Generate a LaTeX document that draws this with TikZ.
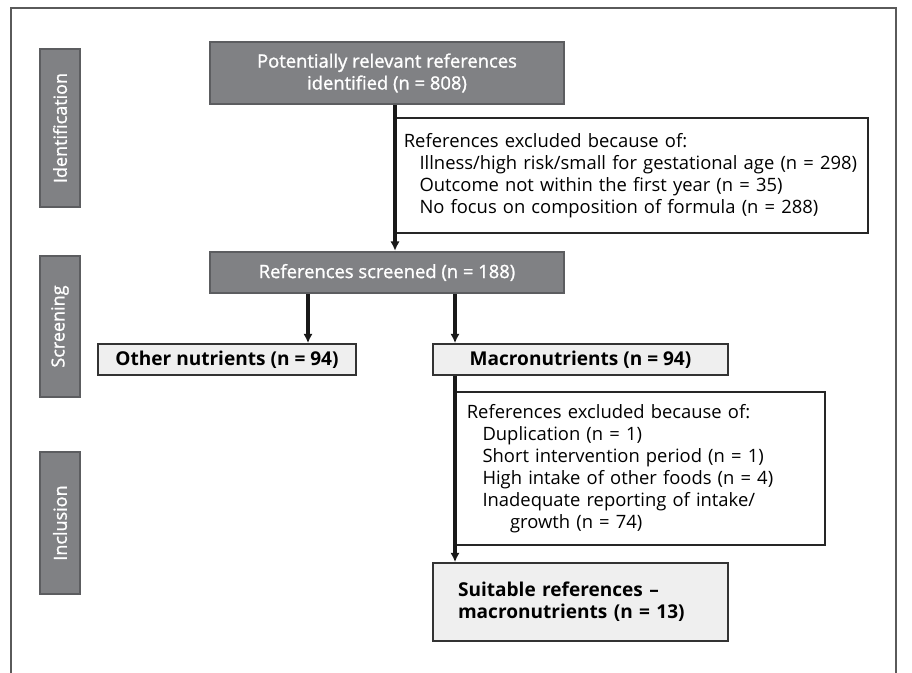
\documentclass[tikz,border=0pt]{standalone}
\usepackage{fontspec}
\setmainfont{Open Sans}
\newfontfamily\stagefont[FakeBold=1.2]{Open Sans}
\usetikzlibrary{arrows.meta}

\definecolor{darkbox}{RGB}{128,129,132}
\definecolor{darkedge}{RGB}{92,93,96}
\definecolor{lightbox}{RGB}{239,239,239}
\definecolor{frame}{RGB}{90,90,90}

\tikzset{
  stagebox/.style={draw=darkedge, line width=1.8pt, fill=darkbox, text=white, font=\stagefont\fontsize{13.8}{16.5}\selectfont},
  sidebox/.style={draw=darkedge, line width=1.8pt, fill=darkbox, text=white, font=\stagefont\fontsize{13.5}{16}\selectfont, rotate=90, minimum height=30pt},
  resultbox/.style={draw=black!80, line width=1.3pt, fill=lightbox, font=\bfseries\fontsize{14.3}{16.5}\selectfont},
  exclbox/.style={draw=black!85, line width=1.3pt, fill=white, anchor=north west, align=left, inner xsep=8.25pt, font=\fontsize{13.8}{16.5}\selectfont},
  flow/.style={line width=2.5pt, black!90, -{Latex[length=7pt,width=7pt]}}
}

\begin{document}
\begin{tikzpicture}[x=0.75pt,y=0.75pt,yscale=-1]
  \useasboundingbox (0,0) rectangle (912,672);

  % outer frame (runs off the bottom of the page)
  \draw[frame, line width=0.9pt] (11,690) -- (11,8) -- (896,8) -- (896,690);

  % stage labels on the left
  \node[sidebox, minimum width=118.5pt] (sideIdent) at (60,128) {Identification};
  \node[sidebox, minimum width=105.75pt] (sideScreen) at (60,326.5) {Screening};
  \node[sidebox, minimum width=106.5pt] (sideIncl) at (60,523) {Inclusion};

  % main boxes
  \node[stagebox, minimum width=265.5pt, minimum height=46.5pt, align=center] (ident) at (387,73) {Potentially relevant references\\identified (n = 808)};
  \node[stagebox, minimum width=265.5pt, minimum height=30.75pt] (screened) at (387,272.5) {References screened (n = 188)};
  \node[resultbox, minimum width=193.5pt, minimum height=23.25pt] (other) at (227,359.5) {Other nutrients (n = 94)};
  \node[resultbox, minimum width=221.25pt, minimum height=23.25pt] (macro) at (580.5,359.5) {Macronutrients (n = 94)};
  \node[resultbox, minimum width=221.25pt, minimum height=58.5pt, text width=183.75pt, inner xsep=18.75pt, align=left] (suitable) at (580.5,602) {Suitable references --\\macronutrients (n = 13)};

  % exclusion boxes
  \node[exclbox, text width=342pt, inner xsep=6pt, minimum height=86.25pt] (exclA) at (395,117) {References excluded because of:\\
    \hspace*{0.85em}Illness/high risk/small for gestational age (n = 298)\\
    \hspace*{0.85em}Outcome not within the first year (n = 35)\\
    \hspace*{0.85em}No focus on composition of formula (n = 288)};
  \node[exclbox, text width=260.25pt, minimum height=114.75pt] (exclB) at (455,391) {References excluded because of:\\
    \hspace*{0.85em}Duplication (n = 1)\\
    \hspace*{0.85em}Short intervention period (n = 1)\\
    \hspace*{0.85em}High intake of other foods (n = 4)\\
    \hspace*{0.85em}Inadequate reporting of intake/\\
    \hspace*{2.35em}growth (n = 74)};

  % split point for the left branch
  \coordinate (splitL) at (308,293);

  % arrows
  \draw[flow] (ident.south -| exclA.west) -- (screened.north -| exclA.west);
  \draw[flow] (screened.south -| splitL) -- (other.north -| splitL);
  \draw[flow] (screened.south -| exclB.west) -- (macro.north -| exclB.west);
  \draw[flow] (macro.south -| exclB.west) -- (suitable.north -| exclB.west);
\end{tikzpicture}
\end{document}
